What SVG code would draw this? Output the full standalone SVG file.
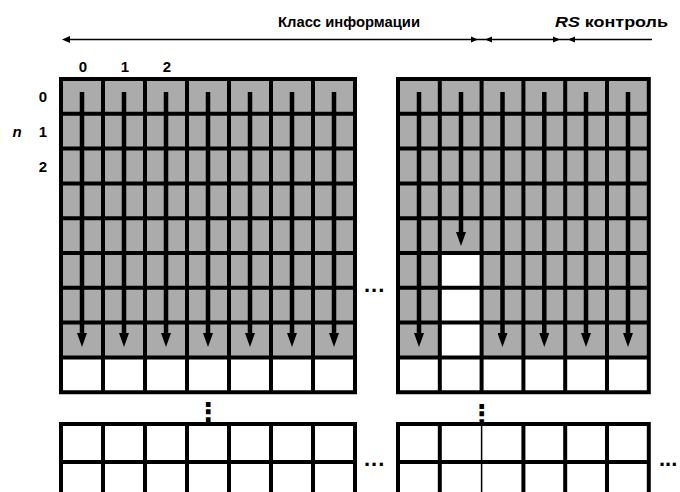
<svg xmlns="http://www.w3.org/2000/svg" width="680" height="492" viewBox="0 0 680 492">
<style>
.bg{fill:#ffffff}
.g{fill:#ababab}
.w{fill:#ffffff}
.grid{stroke:#000;stroke-width:4;fill:none}
.thin{stroke:#000;stroke-width:1.5;fill:none}
.arr{stroke:#000;stroke-width:4.5;fill:none}
.t{font-family:"Liberation Sans",Arial,sans-serif;font-weight:bold;fill:#000}
.dots{font-family:"Liberation Sans",Arial,sans-serif;font-weight:bold;font-size:22px;fill:#000;letter-spacing:1px}
.vd{font-family:"DejaVu Sans",sans-serif;font-weight:bold;font-size:26px;fill:#000}
</style>
<defs>
<marker id="ah" viewBox="0 0 14 10" refX="1" refY="5" markerWidth="14" markerHeight="10" markerUnits="userSpaceOnUse" orient="auto">
<path d="M0,0 L14,5 L0,10 z" fill="#000"/>
</marker>
</defs>
<rect class="bg" x="0" y="0" width="680" height="492"/>

<g id="header">
<text class="t" x="278" y="27" font-size="15" textLength="142" lengthAdjust="spacingAndGlyphs">Класс информации</text>
<text class="t" x="555" y="27" font-size="15" textLength="113" lengthAdjust="spacingAndGlyphs"><tspan font-style="italic">RS</tspan> контроль</text>
<line class="thin" x1="70" y1="39.5" x2="652" y2="39.5" stroke-width="2.5"/>
<path d="M62,39.5 L70,36 L70,43 z" fill="#000"/>
<path d="M478,39.5 L471,36.5 L471,42.5 z" fill="#000"/>
<path d="M485,39.5 L492,36.5 L492,42.5 z" fill="#000"/>
<path d="M560,39.5 L553,36.5 L553,42.5 z" fill="#000"/>
<path d="M568,39.5 L575,36.5 L575,42.5 z" fill="#000"/>
</g>

<g id="labels">
<text class="t" x="83" y="72" font-size="15" text-anchor="middle">0</text>
<text class="t" x="125" y="72" font-size="15" text-anchor="middle">1</text>
<text class="t" x="167" y="72" font-size="15" text-anchor="middle">2</text>
<text class="t" x="43" y="102" font-size="15" text-anchor="middle">0</text>
<text class="t" x="43" y="137" font-size="15" text-anchor="middle">1</text>
<text class="t" x="43" y="172" font-size="15" text-anchor="middle">2</text>
<text class="t" x="17" y="137" font-size="15" font-style="italic" text-anchor="middle">n</text>
</g>

<g id="block-left">
<rect class="g" x="61" y="79" width="294" height="278.4"/>
<rect class="w" x="61" y="357.4" width="294" height="34.8"/>
<path class="grid" d="M61,79 H355 V392.2 H61 Z M61,113.8 H355 M61,148.6 H355 M61,183.4 H355 M61,218.2 H355 M61,253 H355 M61,287.8 H355 M61,322.6 H355 M61,357.4 H355 M103,79 V392.2 M145,79 V392.2 M187,79 V392.2 M229,79 V392.2 M271,79 V392.2 M313,79 V392.2"/>
</g>

<g id="block-right">
<rect class="g" x="398" y="79" width="250.8" height="278.4"/>
<rect class="w" x="398" y="357.4" width="250.8" height="34.8"/>
<rect class="w" x="439.8" y="253" width="41.8" height="104.4"/>
<path class="grid" d="M398,79 H648.8 V392.2 H398 Z M398,113.8 H648.8 M398,148.6 H648.8 M398,183.4 H648.8 M398,218.2 H648.8 M398,253 H648.8 M398,287.8 H648.8 M398,322.6 H648.8 M398,357.4 H648.8 M439.8,79 V392.2 M481.6,79 V392.2 M523.4,79 V392.2 M565.2,79 V392.2 M607,79 V392.2"/>
</g>

<g id="block-lower-left">
<rect class="w" x="61" y="424" width="294" height="80"/>
<path class="grid" d="M61,500 V424 H355 V500 M61,462 H355 M103,424 V500 M145,424 V500 M187,424 V500 M229,424 V500 M271,424 V500 M313,424 V500"/>
</g>

<g id="block-lower-right">
<rect class="w" x="398" y="424" width="250.8" height="80"/>
<path class="grid" d="M398,500 V424 H648.8 V500 M398,462 H648.8 M439.8,424 V500 M523.4,424 V500 M565.2,424 V500 M607,424 V500"/>
<line class="thin" x1="481.6" y1="424" x2="481.6" y2="500"/>
</g>

<g id="connectors">
<line class="arr" x1="82" y1="92" x2="82" y2="334" marker-end="url(#ah)"/>
<line class="arr" x1="124" y1="92" x2="124" y2="334" marker-end="url(#ah)"/>
<line class="arr" x1="166" y1="92" x2="166" y2="334" marker-end="url(#ah)"/>
<line class="arr" x1="208" y1="92" x2="208" y2="334" marker-end="url(#ah)"/>
<line class="arr" x1="250" y1="92" x2="250" y2="334" marker-end="url(#ah)"/>
<line class="arr" x1="292" y1="92" x2="292" y2="334" marker-end="url(#ah)"/>
<line class="arr" x1="334" y1="92" x2="334" y2="334" marker-end="url(#ah)"/>
<line class="arr" x1="419" y1="92" x2="419" y2="334" marker-end="url(#ah)"/>
<line class="arr" x1="461" y1="92" x2="461" y2="233" marker-end="url(#ah)"/>
<line class="arr" x1="502.5" y1="92" x2="502.5" y2="334" marker-end="url(#ah)"/>
<line class="arr" x1="544.3" y1="92" x2="544.3" y2="334" marker-end="url(#ah)"/>
<line class="arr" x1="586" y1="92" x2="586" y2="334" marker-end="url(#ah)"/>
<line class="arr" x1="628" y1="92" x2="628" y2="334" marker-end="url(#ah)"/>
</g>

<g id="ellipses">
<text class="dots" x="364" y="292">...</text>
<text class="dots" x="364" y="466">...</text>
<text class="dots" x="659" y="466" style="letter-spacing:0">...</text>
<text class="vd" x="208" y="421" text-anchor="middle">⋮</text>
<text class="vd" x="481.6" y="423" text-anchor="middle">⋮</text>
</g>
</svg>
